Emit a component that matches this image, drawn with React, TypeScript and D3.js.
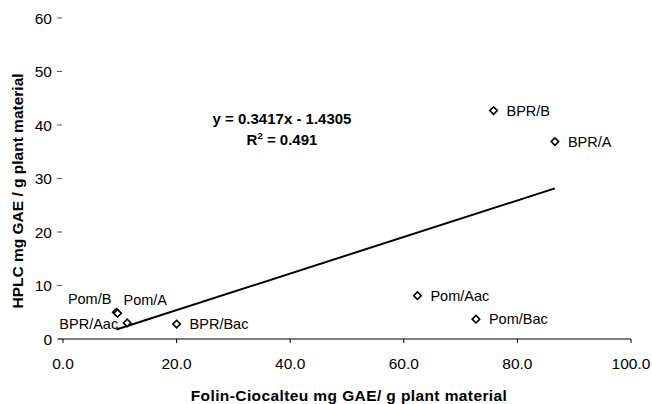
import React from "react";
import * as d3 from "d3";

const labels = ["Pom/B", "Pom/A", "BPR/Aac", "BPR/Bac", "Pom/Aac", "Pom/Bac", "BPR/B", "BPR/A"];
const folin = [9.4, 9.6, 11.3, 20.0, 62.4, 72.7, 75.8, 86.6];
const hplc = [5.0, 4.8, 3.0, 2.8, 8.1, 3.7, 42.7, 36.9];
// label placement (pixel offsets from point), anchor
const labelDx = [-5, 6, -9, 13, 13, 13, 13, 13];
const labelDy = [-8, -8, 6, 5, 5, 5, 5, 5];
const labelAnchor = ["end", "start", "end", "start", "start", "start", "start", "start"];

const xTicks = [0, 20, 40, 60, 80, 100];
const yTicks = [0, 10, 20, 30, 40, 50, 60];
const slope = 0.3417;
const intercept = -1.4305;
const r2 = 0.491;

const W = 652;
const H = 404;
const FONT = "'Liberation Sans', Arial, sans-serif";

export default function App() {
  const x = d3.scaleLinear().domain([0, 100]).range([63, 631]);
  const y = d3.scaleLinear().domain([0, 60]).range([339, 18]);
  const sym = d3.symbol().type(d3.symbolSquare).size(28)();
  const xMin = d3.min(folin) as number;
  const xMax = d3.max(folin) as number;
  const line = d3.line<number>().x((v) => x(v)).y((v) => y(slope * v + intercept));

  return (
    <svg width={W} height={H} style={{ position: "absolute", left: 0, top: 0, background: "#fff" }} fontFamily={FONT}>
      {/* x axis */}
      <line x1={58} x2={x(100)} y1={y(0)} y2={y(0)} stroke="#000" strokeWidth={1} />
      {xTicks.map((t) => (
        <g key={"xt" + t}>
          <line x1={x(t)} x2={x(t)} y1={y(0)} y2={y(0) + 4} stroke="#000" strokeWidth={1} />
          <text x={x(t)} y={369} textAnchor="middle" fontSize={15.5} fill="#000">
            {t.toFixed(1)}
          </text>
        </g>
      ))}
      {yTicks.map((t) => (
        <g key={"yt" + t}>
          <line x1={57} x2={62} y1={y(t)} y2={y(t)} stroke="#555" strokeWidth={1} />
          <text x={52} y={y(t) + 5.5} textAnchor="end" fontSize={15.5} fill="#000">
            {t}
          </text>
        </g>
      ))}
      {/* trendline */}
      <path d={line([xMin, xMax]) || ""} stroke="#000" strokeWidth={2} fill="none" />
      {/* points */}
      {folin.map((v, i) => (
        <path
          key={"p" + i}
          d={sym}
          transform={`translate(${x(v)},${y(hplc[i])}) rotate(45)`}
          fill="#fff"
          stroke="#000"
          strokeWidth={1.6}
        />
      ))}
      {folin.map((v, i) => (
        <text
          key={"l" + i}
          x={x(v) + labelDx[i]}
          y={y(hplc[i]) + labelDy[i]}
          textAnchor={labelAnchor[i] as any}
          fontSize={14.5}
          fill="#000"
        >
          {labels[i]}
        </text>
      ))}
      {/* equation */}
      <text x={282} y={124} textAnchor="middle" fontSize={15} fontWeight="bold" fill="#000">
        {`y = ${slope}x - ${Math.abs(intercept)}`}
      </text>
      <text x={282} y={145} textAnchor="middle" fontSize={15} fontWeight="bold" fill="#000">
        R<tspan fontSize={9.5} dy={-6}>2</tspan>
        <tspan dy={6}>{` = ${r2}`}</tspan>
      </text>
      {/* axis titles */}
      <text x={349} y={401} textAnchor="middle" fontSize={15.5} fontWeight="bold" letterSpacing={0.4} fill="#000">
        Folin-Ciocalteu mg GAE/ g plant material
      </text>
      <text
        transform={`translate(23,191) rotate(-90)`}
        textAnchor="middle"
        fontSize={15.5}
        fontWeight="bold"
        fill="#000"
      >
        HPLC mg GAE / g plant material
      </text>
    </svg>
  );
}
